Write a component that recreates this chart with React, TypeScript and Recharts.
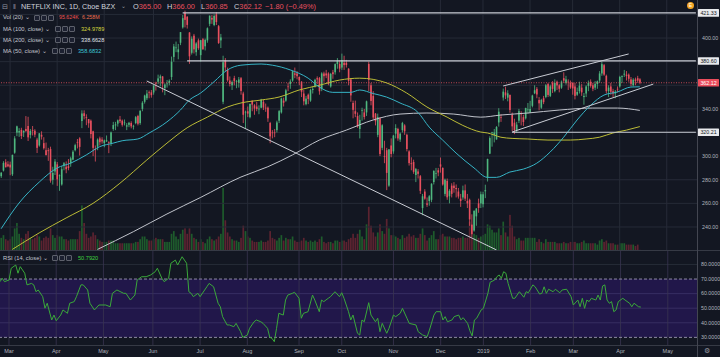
import React from "react";
import { ComposedChart, Bar, Line, XAxis, YAxis, ReferenceLine, ReferenceArea } from "recharts";

// ---------- categories / ticks ----------
const SLOTS = 311; // trading-day slots shown (286 bars + future space)
const monthTickIdx = [4, 25, 46, 68, 89, 110, 133, 152, 175, 196, 215, 236, 255, 276, 297];
const monthTickLabels = ["Mar", "Apr", "May", "Jun", "Jul", "Aug", "Sep", "Oct", "Nov", "Dec", "2019", "Feb", "Mar", "Apr", "May"];
const priceGridTicks = [240, 260, 280, 300, 320, 340, 360, 380, 400, 420];
const priceLabelTicks = [240, 260, 280, 300, 340, 400];
const rsiTicks = [80, 70, 60, 50, 40, 30];

// ---------- daily OHLC (Feb 23 2018 .. Apr 12 2019) ----------
const opens = [
  283.0, 287.8, 294.8, 293.1,
  292.8, 284.6, 302.9, 319.9, 320.0, 322.2, 320.0, 323.0, 325.5, 318.0, 322.0, 321.5, 314.0, 309.0, 318.0, 311.0, 305.0, 305.0, 306.0, 280.0, 287.0,
  293.0, 283.0, 276.0, 292.0, 291.0, 291.5, 294.0, 297.0, 305.0, 312.0, 315.0, 329.7, 336.3, 332.9, 331.4, 330.0, 321.0, 306.0, 308.0, 315.0, 314.0,
  311.0, 312.5, 312.0, 311.0, 323.0, 326.0, 327.5, 331.0, 330.0, 328.0, 325.0, 326.5, 328.0, 325.0, 328.0, 334.0, 328.0, 340.0, 346.0, 349.0, 354.0, 354.0,
  353.9, 362.0, 363.0, 366.0, 367.5, 357.5, 361.0, 362.0, 367.0, 384.0, 392.0, 388.0, 396.0, 409.0, 421.4, 418.0, 404.7, 387.5, 402.0, 388.0, 398.0,
  385.5, 399.0, 393.0, 398.0, 412.0, 417.0, 411.0, 420.0, 410.0, 398.0, 346.0, 381.0, 373.0, 364.0, 360.0, 366.0, 363.0, 362.0, 366.0, 353.0, 337.0,
  338.0, 333.0, 347.0, 343.0, 342.0, 340.0, 341.0, 346.0, 341.0, 341.0, 328.0, 320.0, 320.0, 322.0, 330.0, 337.0, 347.0, 347.0, 359.0, 361.0, 364.0, 370.0, 370.0,
  367.0, 363.0, 353.0, 344.0, 352.0, 347.0, 356.0, 359.0, 366.0, 366.0, 357.0, 370.0, 370.0, 370.0, 359.0, 371.0, 371.0, 378.0, 378.0,
  375.0, 379.0, 379.0, 374.0, 365.0, 345.0, 338.0, 334.0, 323.0, 339.0, 337.0, 337.0, 378.0, 360.0, 351.0, 336.0, 318.0, 332.0, 307.0, 300.0, 305.0, 275.0, 309.0,
  304.0, 319.0, 323.0, 314.0, 322.0, 326.0, 318.0, 304.0, 294.0, 295.0, 284.0, 287.0, 283.0, 256.0, 270.0, 260.0, 262.0, 263.0, 278.0, 285.0, 288.0,
  293.0, 290.0, 268.0, 279.0, 266.0, 275.0, 275.0, 273.0, 270.0, 264.0, 265.0, 271.0, 262.0, 263.0, 242.0, 237.0, 249.0, 260.0, 260.0,
  259.3, 270.2, 281.9, 302.1, 320.0, 317.7, 314.1, 328.5, 333.0, 349.6, 354.0, 349.5, 351.9, 334.9, 328.3, 322.1, 330.0, 336.0, 333.0, 332.0, 339.0,
  337.2, 342.6, 353.2, 357.0, 347.5, 341.0, 349.0, 350.0, 361.0, 351.0, 362.0, 355.0, 363.0, 360.0, 358.0, 366.0, 362.0, 363.0, 362.0,
  362.0, 359.0, 352.0, 355.0, 358.0, 350.0, 353.0, 359.5, 363.0, 360.0, 358.0, 361.0, 364.0, 370.0, 377.0, 368.0, 355.0, 359.0, 355.0, 353.0, 357.0,
  359.0, 367.0, 369.0, 369.0, 369.0, 365.0, 360.0, 365.0, 366.0, 365.0,
];
const highs = [
  286.5, 295.7, 297.4, 295.7,
  295.3, 301.2, 316.9, 325.8, 323.7, 324.0, 321.8, 333.9, 333.3, 323.0, 325.5, 322.8, 315.5, 319.5, 321.0, 316.0, 311.5, 307.0, 308.0, 291.0, 297.5,
  295.0, 284.5, 291.5, 295.0, 295.5, 297.5, 299.5, 305.0, 310.5, 314.5, 316.0, 338.8, 338.8, 335.4, 331.4, 331.0, 321.5, 309.0, 315.0, 316.5, 316.0,
  314.0, 317.5, 312.5, 320.8, 329.0, 329.0, 331.0, 334.0, 331.0, 331.0, 328.0, 329.0, 329.5, 326.5, 334.0, 335.0, 338.8, 346.5, 352.0, 356.0, 355.5, 356.0,
  360.0, 363.0, 369.0, 369.0, 367.8, 361.6, 364.5, 365.0, 384.3, 395.0, 397.0, 395.0, 405.0, 419.5, 423.2, 418.5, 405.0, 401.4, 403.5, 396.5, 399.5,
  398.4, 400.0, 399.5, 409.0, 419.0, 419.5, 420.0, 422.0, 411.0, 403.5, 385.0, 383.0, 375.0, 367.5, 364.0, 368.0, 364.5, 367.0, 367.0, 354.5, 338.5,
  342.0, 344.5, 347.0, 344.0, 346.0, 343.0, 348.5, 347.5, 344.5, 342.0, 329.0, 322.0, 323.0, 330.0, 339.0, 349.5, 349.5, 357.0, 362.0, 365.0, 372.0, 375.0, 372.0,
  367.5, 363.5, 356.0, 351.0, 353.0, 357.0, 359.0, 365.5, 367.5, 367.0, 371.0, 371.5, 373.0, 371.0, 370.5, 373.0, 378.5, 383.0, 381.0,
  386.8, 385.0, 381.5, 374.5, 366.0, 347.0, 347.0, 337.0, 335.0, 341.0, 340.0, 347.0, 380.0, 362.0, 355.0, 336.5, 336.0, 333.0, 327.0, 313.0, 307.0, 306.0, 315.0,
  318.0, 327.0, 324.0, 320.0, 329.0, 327.0, 319.0, 305.0, 299.0, 297.0, 290.0, 289.0, 284.0, 268.0, 272.0, 265.0, 267.0, 277.0, 288.0, 290.0, 290.0,
  298.8, 290.5, 281.0, 281.0, 272.0, 277.0, 278.0, 276.0, 273.0, 268.0, 275.0, 276.0, 268.0, 264.0, 250.7, 254.0, 256.0, 264.0, 270.0,
  269.8, 275.8, 297.8, 316.8, 320.6, 323.0, 325.4, 340.6, 335.5, 357.2, 358.8, 355.8, 352.0, 336.9, 331.7, 329.0, 340.0, 338.0, 335.0, 341.0, 345.0,
  346.8, 352.0, 360.0, 358.5, 350.0, 348.5, 351.0, 361.0, 362.0, 360.5, 363.5, 365.0, 364.0, 361.0, 364.0, 371.0, 368.0, 365.0, 364.0,
  362.5, 362.0, 358.0, 363.0, 361.0, 353.5, 360.0, 364.0, 365.0, 362.0, 363.5, 364.0, 372.0, 379.8, 378.0, 369.0, 360.0, 362.0, 357.0, 356.0, 359.0,
  368.0, 368.4, 373.0, 372.0, 370.0, 367.0, 366.0, 366.5, 368.0, 366.0,
];
const lows = [
  281.5, 287.0, 290.4, 290.6,
  283.8, 283.2, 302.0, 316.9, 316.3, 314.5, 316.2, 320.5, 312.8, 315.0, 317.5, 316.0, 302.6, 308.0, 314.0, 305.5, 300.5, 296.0, 277.5, 275.9, 284.0,
  274.8, 270.6, 275.0, 288.0, 285.5, 288.0, 291.0, 296.5, 304.0, 306.5, 300.5, 323.7, 331.1, 326.2, 324.0, 315.0, 300.0, 295.4, 305.0, 309.0, 310.5,
  307.5, 312.0, 302.5, 308.5, 321.5, 322.0, 325.0, 328.0, 325.0, 326.0, 322.0, 324.5, 323.5, 322.5, 327.0, 326.0, 326.5, 338.0, 344.5, 347.5, 349.0, 349.5,
  352.0, 355.5, 361.0, 359.0, 354.0, 351.6, 358.0, 360.0, 364.5, 380.0, 388.0, 382.0, 394.0, 408.0, 409.0, 408.0, 378.1, 386.0, 386.9, 385.0, 390.0,
  380.0, 390.0, 389.5, 396.0, 410.0, 412.0, 410.0, 411.0, 395.0, 391.5, 344.0, 372.0, 363.0, 359.0, 356.0, 360.0, 357.5, 358.0, 352.0, 328.0, 323.0,
  333.0, 332.0, 338.0, 335.0, 338.0, 335.5, 340.5, 339.0, 337.5, 329.0, 310.9, 315.0, 316.0, 320.0, 328.0, 336.0, 342.0, 346.0, 355.0, 357.0, 363.0, 366.0, 365.0,
  360.0, 350.0, 343.0, 343.0, 344.0, 346.0, 353.0, 358.0, 361.0, 352.0, 355.0, 363.0, 366.0, 360.0, 358.0, 365.5, 369.0, 374.0, 371.0,
  373.0, 373.0, 375.0, 360.0, 346.0, 332.0, 333.0, 324.0, 315.0, 330.0, 331.0, 334.0, 355.0, 343.0, 331.0, 326.0, 316.0, 300.0, 305.0, 294.0, 271.2, 274.0, 299.0,
  302.0, 315.0, 313.0, 312.0, 320.0, 318.0, 304.0, 292.0, 288.0, 285.0, 278.0, 281.0, 268.0, 250.0, 263.0, 257.0, 258.0, 261.0, 276.0, 281.0, 283.0,
  286.0, 275.0, 266.0, 263.0, 260.0, 265.0, 269.0, 265.0, 264.0, 257.0, 263.0, 262.0, 256.0, 241.0, 231.2, 236.0, 241.0, 252.0, 256.0,
  256.6, 264.4, 278.5, 301.7, 308.0, 311.6, 314.0, 325.0, 329.0, 347.0, 348.3, 346.4, 336.7, 321.0, 318.6, 320.0, 328.0, 326.0, 325.5, 331.0, 336.0,
  336.5, 341.3, 352.5, 349.0, 338.8, 340.0, 344.0, 349.0, 350.0, 350.0, 353.5, 354.0, 356.0, 354.0, 357.0, 362.0, 360.5, 356.0, 357.0,
  352.0, 348.0, 351.0, 353.0, 351.0, 343.5, 350.0, 355.0, 358.0, 355.0, 356.0, 357.0, 362.0, 368.0, 368.0, 353.0, 350.0, 352.0, 350.0, 349.0, 354.0,
  358.0, 362.0, 367.0, 364.0, 363.0, 359.0, 359.0, 360.0, 362.0, 360.85,
];
const closes = [
  285.9, 294.2, 290.6, 291.4,
  290.4, 301.1, 315.0, 325.2, 321.2, 317.0, 321.4, 321.3, 315.9, 321.3, 321.5, 318.2, 307.0, 319.3, 316.5, 306.7, 300.9, 304.2, 279.2, 285.8, 295.4,
  280.3, 283.7, 288.9, 294.0, 288.9, 289.9, 298.1, 303.7, 309.3, 311.7, 307.8, 336.1, 333.9, 332.2, 327.8, 318.7, 307.0, 305.8, 314.0, 311.8, 312.5,
  313.3, 313.4, 311.7, 320.1, 326.3, 326.9, 330.3, 329.6, 326.5, 328.5, 326.1, 328.2, 325.2, 325.6, 333.0, 327.4, 338.4, 345.2, 351.3, 353.0, 353.5, 351.6,
  359.9, 361.8, 365.8, 367.5, 361.4, 360.6, 361.5, 363.8, 379.9, 392.9, 392.0, 390.4, 405.0, 416.8, 415.4, 411.1, 384.5, 399.4, 390.4, 395.4, 391.4,
  398.2, 390.5, 398.4, 408.3, 419.0, 415.6, 418.7, 413.5, 395.8, 400.5, 379.5, 375.1, 364.2, 361.1, 362.7, 363.4, 363.4, 364.9, 355.2, 335.0, 337.5,
  336.0, 344.2, 343.6, 340.3, 339.9, 340.2, 347.8, 341.1, 340.5, 332.0, 316.7, 319.6, 319.7, 328.5, 338.1, 348.8, 345.2, 355.7, 358.4, 363.2, 371.9, 368.9, 367.7,
  364.1, 354.5, 346.4, 348.7, 348.4, 355.9, 356.9, 364.6, 364.9, 354.9, 370.0, 367.7, 368.3, 361.2, 369.6, 369.4, 377.9, 380.7, 374.1,
  381.4, 377.1, 377.1, 363.7, 351.4, 339.2, 335.8, 325.2, 330.7, 339.0, 333.1, 346.4, 364.7, 346.7, 332.7, 329.5, 333.1, 301.8, 326.1, 299.8, 285.8, 305.7, 301.8,
  317.4, 323.8, 315.0, 319.0, 328.0, 321.0, 306.0, 294.1, 293.2, 286.7, 289.0, 285.0, 270.6, 266.0, 264.0, 258.8, 266.0, 276.6, 287.5, 285.5, 286.1,
  291.1, 276.0, 280.0, 265.1, 270.6, 268.0, 273.0, 272.0, 265.8, 262.0, 271.0, 264.0, 260.0, 246.4, 233.9, 253.7, 255.6, 256.1, 267.7,
  267.7, 271.2, 297.6, 315.3, 320.3, 320.0, 324.7, 337.6, 332.9, 354.6, 351.4, 353.2, 339.1, 325.2, 322.0, 326.7, 338.1, 335.7, 328.9, 340.7, 339.5,
  339.9, 351.3, 355.8, 352.2, 344.7, 347.6, 345.7, 360.0, 351.8, 359.1, 356.9, 361.9, 359.9, 357.0, 363.0, 363.9, 365.0, 362.9, 358.1,
  357.3, 351.0, 354.3, 359.6, 354.0, 351.0, 359.0, 362.0, 359.5, 357.0, 361.2, 363.4, 370.0, 377.9, 369.0, 355.0, 358.0, 354.5, 353.0, 354.6, 356.6,
  367.0, 367.7, 369.8, 367.9, 365.5, 361.2, 364.7, 363.5, 363.9, 362.12,
];
// volume, millions
const volumes = [
  9, 11, 8, 7,
  8, 10, 16, 20, 12, 9, 8, 12, 14, 9, 8, 9, 11, 10, 7, 9, 10, 9, 16, 11, 9,
  11, 10, 10, 8, 8, 7, 8, 8, 8, 8, 14, 33, 20, 12, 9, 10, 13, 11, 8, 7, 6,
  6, 6, 7, 7, 7, 5, 5, 5, 5, 5, 5, 5, 5, 5, 6, 6, 8, 10, 10, 8, 7, 7,
  8, 9, 8, 8, 8, 6, 6, 6, 12, 14, 10, 8, 12, 15, 16, 12, 16, 12, 9, 8, 6,
  8, 6, 5, 8, 10, 8, 7, 8, 10, 12, 46, 22, 13, 10, 8, 7, 7, 6, 9, 18, 14,
  10, 9, 7, 6, 6, 6, 7, 6, 6, 7, 14, 9, 8, 7, 9, 11, 7, 9, 8, 8, 10, 7, 6,
  6, 7, 9, 7, 6, 7, 6, 7, 6, 8, 10, 6, 5, 6, 6, 5, 7, 7, 6,
  7, 7, 6, 8, 9, 12, 9, 12, 15, 10, 8, 19, 32, 18, 13, 10, 13, 19, 14, 12, 23, 16, 11,
  11, 10, 9, 8, 11, 9, 10, 12, 10, 11, 9, 9, 12, 16, 11, 7, 9, 11, 14, 8, 8,
  11, 12, 10, 10, 10, 9, 9, 8, 9, 9, 10, 9, 9, 21, 9, 12, 11, 9, 10,
  11, 12, 19, 18, 15, 13, 13, 16, 11, 21, 13, 10, 26, 18, 10, 8, 9, 7, 7, 9, 9,
  9, 9, 9, 6, 8, 6, 5, 8, 6, 6, 6, 6, 5, 5, 5, 6, 5, 5, 6,
  6, 6, 5, 5, 6, 7, 5, 5, 5, 5, 5, 4, 7, 8, 6, 7, 5, 5, 5, 4, 4,
  5, 5, 5, 4, 4, 4, 4, 3, 4, 0.1,
];

// ---------- indicator readings [bar index, value] ----------
const ma50Points: [number, number][] = [
  [0, 238.5], [8, 260.3], [17, 278], [25, 290], [31, 294], [38, 301], [44, 308], [50, 311], [54, 313], [61, 314.5],
  [66, 319.5], [74, 329], [80, 339], [84, 347.5], [89, 353.4], [95, 363], [101, 373], [107, 377], [116, 378], [121, 377],
  [129, 373], [137, 366], [142, 358.5], [148, 354], [156, 354], [160, 356], [166, 353], [172, 350], [178, 345], [186, 337],
  [191, 324.6], [197, 313.6], [203, 302.6], [211, 290], [217, 282], [221, 282], [227, 286.5], [233, 289], [239, 294], [245, 303.5],
  [251, 316], [257, 330.6], [263, 343], [269, 351.7], [275, 354.3], [281, 358.5], [285, 358.7],
];
const ma100Points: [number, number][] = [
  [5, 221], [17, 235], [29, 247.6], [41, 260], [53, 277], [65, 296.7], [74, 311], [83, 324], [92, 333], [101, 341.6],
  [107, 345], [116, 347.5], [124, 350], [133, 356], [142, 360], [151, 364.4], [160, 366], [166, 365], [172, 362], [181, 353.4],
  [190, 341.6], [199, 333], [206, 326], [214, 320.4], [217, 319.6], [223, 316], [228, 315], [235, 314.5], [244, 313.6], [254, 313.6],
  [261, 314.5], [267, 316], [273, 319.6], [279, 322], [285, 325],
];
const ma200Points: [number, number][] = [
  [43, 221], [59, 236], [74, 251], [89, 265], [107, 282.3], [119, 291], [130, 301], [142, 313.6], [154, 322], [166, 330.6],
  [178, 335.6], [190, 336.5], [202, 335.6], [214, 333], [223, 334.8], [235, 336.5], [249, 339], [264, 340.7], [275, 340.7], [285, 338.7],
];
const rsiPoints: [number, number][] = [
  [0, 68.2], [1, 70.5], [2, 68.2], [4, 69.3], [5, 77.4], [7, 79.6], [8, 74], [9, 78.5], [11, 74], [12, 66], [14, 67], [15, 66],
  [16, 61.3], [17, 62.5], [19, 57.9], [20, 50], [21, 53.4], [23, 41.9], [24, 45.3], [25, 41.4], [27, 45.3], [28, 48.8], [30, 46.5],
  [31, 53.4], [33, 54.5], [34, 57.9], [36, 66], [37, 66], [39, 62.5], [40, 53.4], [42, 48.8], [44, 52.2], [47, 52.2], [49, 51],
  [50, 60.2], [52, 62.5], [55, 60.2], [56, 60.2], [58, 55.6], [60, 59], [61, 69.3], [63, 71.6], [65, 71.6], [67, 72.8], [69, 75],
  [70, 77.4], [72, 70.5], [73, 68.2], [75, 70.5], [76, 80.8], [78, 83], [79, 79.6], [81, 85.3], [83, 80.8], [84, 61.3], [85, 60.2],
  [86, 57.9], [88, 60.2], [89, 57.9], [92, 64.7], [93, 67], [95, 64.7], [97, 53.4], [98, 51], [99, 44.2], [101, 38.5], [102, 38.5],
  [104, 37.3], [105, 39.6], [107, 33.9], [108, 30], [110, 31.6], [111, 36.2], [113, 40.7], [114, 41.9], [116, 40.7], [117, 39.6],
  [119, 36.2], [120, 30], [121, 29.3], [122, 27], [123, 36.2], [124, 46.5], [126, 45.3], [127, 55.6], [128, 59], [130, 60.2],
  [131, 60.9], [133, 56.8], [134, 43.1], [135, 46.5], [137, 47.6], [139, 59], [140, 55.6], [142, 47.6], [143, 55.6], [144, 54.5],
  [146, 56.8], [147, 57.9], [149, 61.3], [151, 57.9], [152, 60.6], [153, 56.8], [155, 47.6], [156, 41.9], [157, 45.3], [159, 32.8],
  [160, 31.6], [161, 41.9], [162, 40.7], [164, 53.8], [165, 45.3], [167, 40.7], [168, 43.1], [169, 33.9], [170, 39.6], [172, 32.8],
  [173, 36.2], [175, 45.3], [176, 44.2], [178, 46.5], [179, 49.9], [181, 43.1], [182, 39.6], [185, 38.5], [186, 33.9], [188, 31.6],
  [190, 30.5], [191, 35], [193, 45.3], [194, 47.6], [196, 47.6], [197, 41.9], [198, 44.2], [199, 40.7], [201, 41.9], [202, 44.2],
  [204, 45.3], [205, 42], [206, 43.5], [208, 39.5], [209, 34.5], [210, 31], [211, 41.9], [212, 43.1], [214, 48.8], [215, 49.9],
  [217, 60.2], [218, 67.8], [220, 69.3], [221, 71.6], [222, 72.8], [223, 70.5], [224, 75], [225, 74], [226, 67], [228, 56.8],
  [229, 56.8], [231, 61.3], [233, 57.5], [234, 61.3], [235, 60.6], [237, 66], [238, 64.7], [240, 59.7], [241, 60.2], [242, 64.7],
  [243, 60.2], [244, 63], [246, 61.3], [247, 63], [249, 60.6], [250, 62.5], [252, 63], [254, 57.9], [255, 52.2], [257, 55.6],
  [258, 51], [259, 56.8], [260, 49.9], [261, 55.6], [262, 54.5], [263, 56.8], [265, 55.6], [266, 59], [267, 55.6], [268, 65.2],
  [269, 66], [270, 55.6], [271, 53.4], [272, 54.5], [273, 47.6], [274, 48.8], [275, 54.5], [277, 56.8], [278, 55.6], [280, 53.4],
  [281, 51], [282, 53.4], [284, 51], [285, 50.79],
];

// ---------- drawings (data space) ----------
const hRays = [
  { price: 421.33, from: 81 },
  { price: 380.6, from: 83 },
  { price: 320.21, from: 228 },
];
const trendLines: [number, number, number, number][] = [
  [65, 363.6, 221, 220.6],
  [224, 359.4, 280, 386.5],
  [228, 320.4, 291, 361.0],
];
const lastPrice = 362.12;
const axisBadges = [
  { value: 421.33, bg: "#e8e9ec", fg: "#131722" },
  { value: 380.6, bg: "#e8e9ec", fg: "#131722" },
  { value: 320.21, bg: "#e8e9ec", fg: "#131722" },
  { value: 362.12, bg: "#eb4d5c", fg: "#ffffff" },
];

// ---------- styling ----------
const P_MIN = 220.5, P_MAX = 432.2;
const R_MIN = 24.76, R_MAX = 89.23;
const BG = "#131722";
const GRID = "#262b37";
const AXT = "#b2b5be";
const UP = "#4fb77f";
const DOWN = "#e8505f";
const VOL_UP = "#1e5b2c";
const VOL_DOWN = "#5c2330";
const C50 = "#36b4c6";
const C100 = "#bcbc36";
const C200 = "#c0c3cb";
const DRAW = "#c9ccd4";
const RSI_C = "#3aa83a";
const FONT = "'Liberation Sans', Arial, sans-serif";

const toMap = (pts: [number, number][]) => new Map(pts.map(([i, v]) => [i, v]));
const m50 = toMap(ma50Points), m100 = toMap(ma100Points), m200 = toMap(ma200Points), mr = toMap(rsiPoints);

const rows = Array.from({ length: SLOTS }, (_, i) => {
  const has = i < closes.length;
  return {
    i,
    o: has ? opens[i] : undefined,
    h: has ? highs[i] : undefined,
    l: has ? lows[i] : undefined,
    c: has ? closes[i] : undefined,
    range: has ? [lows[i], highs[i]] : undefined,
    vol: has ? volumes[i] : undefined,
    ma50: m50.get(i),
    ma100: m100.get(i),
    ma200: m200.get(i),
    rsi: mr.get(i),
  };
});

const CandleShape = (props: any) => {
  const { x, y, width, height, payload } = props;
  if (!payload || payload.h == null || !isFinite(y) || !isFinite(height)) return <g />;
  const { o, h, l, c } = payload;
  const top = Math.min(y, y + height);
  const bot = Math.max(y, y + height);
  const span = h - l || 1;
  const yOf = (v: number) => top + ((h - v) / span) * (bot - top);
  const cx = x + width / 2;
  const col = c >= o ? UP : DOWN;
  const bt = yOf(Math.max(o, c));
  const bb = yOf(Math.min(o, c));
  return (
    <g>
      <line x1={cx} x2={cx} y1={top} y2={bot} stroke={col} strokeWidth={0.8} />
      <rect x={cx - 0.8} y={bt} width={1.6} height={Math.max(0.7, bb - bt)} fill={col} />
    </g>
  );
};

const VolShape = (props: any) => {
  const { x, y, width, height, payload } = props;
  if (!payload || payload.vol == null || !(height > 0)) return <g />;
  const cx = x + width / 2;
  return <rect x={cx - 0.85} y={y} width={1.7} height={height} fill={payload.c >= payload.o ? VOL_UP : VOL_DOWN} />;
};

const PriceTick = (p: any) => {
  const v = p.payload?.value;
  const badge = axisBadges.find((b) => b.value === v);
  if (badge) {
    return (
      <g>
        <rect x={p.x + 1} y={p.y - 3.8} width={21} height={7.6} fill={badge.bg} rx={0.5} />
        <text x={p.x + 11.5} y={p.y} dy="0.35em" textAnchor="middle" fontSize={5.3} fill={badge.fg} fontFamily={FONT}>
          {v.toFixed(2)}
        </text>
      </g>
    );
  }
  return (
    <text x={p.x + 5} y={p.y} dy="0.35em" fontSize={5.3} fill={AXT} fontFamily={FONT}>
      {v.toFixed(2)}
    </text>
  );
};

const RsiTick = (p: any) => (
  <text x={p.x + 4} y={p.y} dy="0.35em" fontSize={5.3} fill={AXT} fontFamily={FONT}>
    {p.payload.value.toFixed(4)}
  </text>
);

const T = ({ x, y, size = 6, color = "#c3c6ce", children }: any) => (
  <div style={{ position: "absolute", left: x, top: y - size * 0.6, fontSize: size, lineHeight: 1.2 + "", color, whiteSpace: "nowrap", fontFamily: FONT }}>
    {children}
  </div>
);

const Icons = ({ x, y }: any) => (
  <>
    {[0, 7, 14].map((d) => (
      <div key={d} style={{ position: "absolute", left: x + d, top: y - 3, width: 4, height: 4, border: "1px solid #5d606b", borderRadius: 1, background: "#1c2030" }} />
    ))}
  </>
);

export default function App() {
  const xLabel = (v: any) => monthTickLabels[monthTickIdx.indexOf(Number(v))] ?? "";
  return (
    <div style={{ position: "fixed", left: 0, top: 0, width: 720, height: 357, background: BG, overflow: "hidden" }}>
      {/* layer A: grid + volume */}
      <div style={{ position: "absolute", left: 0, top: 0 }}>
        <ComposedChart width={720} height={250} data={rows} margin={{ top: 0, right: 23, left: 0, bottom: 0 }}>
          <XAxis dataKey="i" hide />
          <YAxis yAxisId="p" hide type="number" domain={[P_MIN, P_MAX]} allowDataOverflow />
          <YAxis yAxisId="v" hide type="number" domain={[0, 185]} allowDataOverflow />
          {priceGridTicks.map((p) => (
            <ReferenceLine key={"h" + p} yAxisId="p" y={p} stroke={GRID} strokeWidth={1} />
          ))}
          {monthTickIdx.map((m) => (
            <ReferenceLine key={"v" + m} yAxisId="p" x={m} stroke={GRID} strokeWidth={1} />
          ))}
          <Bar yAxisId="v" dataKey="vol" shape={VolShape} isAnimationActive={false} />
        </ComposedChart>
      </div>
      {/* layer B: price */}
      <div style={{ position: "absolute", left: 0, top: 0 }}>
        <ComposedChart width={720} height={250} data={rows} margin={{ top: 0, right: 0, left: 0, bottom: 0 }}>
          <XAxis dataKey="i" hide />
          <YAxis
            orientation="right"
            width={23}
            type="number"
            domain={[P_MIN, P_MAX]}
            allowDataOverflow
            ticks={[...priceLabelTicks, ...axisBadges.map((b) => b.value)]}
            interval={0}
            tickSize={0}
            tickMargin={0}
            axisLine={false}
            tickLine={false}
            tick={(p: any) => <PriceTick {...p} />}
          />
          <ReferenceLine y={lastPrice} stroke={DOWN} strokeDasharray="1 1.5" strokeWidth={0.8} />
          <Bar dataKey="range" shape={CandleShape} isAnimationActive={false} />
          <Line dataKey="ma200" type="monotone" stroke={C200} strokeWidth={1} dot={false} activeDot={false} connectNulls isAnimationActive={false} />
          <Line dataKey="ma100" type="monotone" stroke={C100} strokeWidth={1} dot={false} activeDot={false} connectNulls isAnimationActive={false} />
          <Line dataKey="ma50" type="monotone" stroke={C50} strokeWidth={1} dot={false} activeDot={false} connectNulls isAnimationActive={false} />
          {hRays.map((r) => (
            <ReferenceLine key={"r" + r.price} segment={[{ x: r.from, y: r.price }, { x: SLOTS - 1, y: r.price }]} stroke={DRAW} strokeWidth={1.2} ifOverflow="hidden" />
          ))}
          {trendLines.map((t, k) => (
            <ReferenceLine key={"t" + k} segment={[{ x: t[0], y: t[1] }, { x: t[2], y: t[3] }]} stroke={DRAW} strokeWidth={1} ifOverflow="hidden" />
          ))}
        </ComposedChart>
      </div>
      {/* layer C: RSI + time axis */}
      <div style={{ position: "absolute", left: 0, top: 251 }}>
        <ComposedChart width={720} height={106} data={rows} margin={{ top: 0, right: 0, left: 0, bottom: 0 }}>
          <XAxis
            dataKey="i"
            ticks={monthTickIdx}
            interval={0}
            height={12}
            axisLine={false}
            tickLine={false}
            tickSize={0}
            tickMargin={4}
            tickFormatter={xLabel}
            tick={{ fontSize: 5.5, fill: AXT, fontFamily: FONT }}
          />
          <YAxis
            orientation="right"
            width={23}
            type="number"
            domain={[R_MIN, R_MAX]}
            allowDataOverflow
            ticks={rsiTicks}
            interval={0}
            tickSize={0}
            tickMargin={0}
            axisLine={false}
            tickLine={false}
            tick={(p: any) => <RsiTick {...p} />}
          />
          <ReferenceArea y1={30} y2={70} fill="#21174a" fillOpacity={1} stroke="none" />
          <ReferenceLine y={80} stroke={GRID} />
          {[40, 50, 60].map((v) => (
            <ReferenceLine key={"rg" + v} y={v} stroke="#372d62" />
          ))}
          {monthTickIdx.map((m) => (
            <ReferenceLine key={"rv" + m} x={m} stroke="#3a3550" strokeOpacity={0.8} />
          ))}
          <ReferenceLine y={70} stroke="#8d8aa3" strokeDasharray="3 2" />
          <ReferenceLine y={30} stroke="#8d8aa3" strokeDasharray="3 2" />
          <Line dataKey="rsi" type="linear" stroke={RSI_C} strokeWidth={1} dot={false} activeDot={false} connectNulls isAnimationActive={false} />
        </ComposedChart>
      </div>

      {/* frame lines */}
      <div style={{ position: "absolute", left: 0, top: 250, width: 720, height: 1, background: "#363a45" }} />
      <div style={{ position: "absolute", left: 0, top: 345, width: 720, height: 1, background: "#363a45" }} />
      <div style={{ position: "absolute", left: 697, top: 0, width: 1, height: 357, background: "#434651" }} />

      {/* header */}
      <T x={2} y={7} size={7} color="#9598a1">⊟</T>
      <T x={13} y={7} size={7} color="#9598a1">‖</T>
      <T x={21} y={7} size={7.2} color="#d1d4dc">NETFLIX INC, 1D, Cboe BZX</T>
      <T x={121} y={7} size={6} color="#9598a1">⌄</T>
      <T x={133} y={7} size={7.4} color="#d1d4dc">O<span style={{ color: DOWN }}>365.00</span></T>
      <T x={167} y={7} size={7.4} color="#d1d4dc">H<span style={{ color: DOWN }}>366.00</span></T>
      <T x={201} y={7} size={7.4} color="#d1d4dc">L<span style={{ color: DOWN }}>360.85</span></T>
      <T x={234} y={7} size={7.4} color="#d1d4dc">C<span style={{ color: DOWN }}>362.12</span></T>
      <T x={265} y={7} size={7.4} color={DOWN}>−1.80 (−0.49%)</T>

      {/* legends */}
      <T x={3} y={17.5} size={5.8}>Vol (20) ⌄</T>
      <Icons x={34} y={17.5} />
      <T x={59} y={17.5} size={5.3} color="#ef5350">95.624K</T>
      <T x={82} y={17.5} size={5.3} color="#ef6f50">6.258M</T>

      <T x={3} y={29} size={5.8}>MA (100, close) ⌄</T>
      <Icons x={55} y={29} />
      <T x={81} y={29} size={5.6} color="#d6d63c">324.9789</T>

      <T x={3} y={40} size={5.8}>MA (200, close) ⌄</T>
      <Icons x={55} y={40} />
      <T x={81} y={40} size={5.6} color="#e0e3eb">338.6628</T>

      <T x={3} y={51} size={5.8}>MA (50, close) ⌄</T>
      <Icons x={52} y={51} />
      <T x={78} y={51} size={5.6} color="#3ec6d8">358.6832</T>

      <T x={3} y={258} size={5.8}>RSI (14, close) ⌄</T>
      <Icons x={52} y={258} />
      <T x={78} y={258} size={5.6} color="#3fd13f">50.7920</T>

      {/* earnings marker + gear */}
      <div style={{ position: "absolute", left: 687, top: 1.5, width: 7, height: 7, borderRadius: 4, background: "#f5a623", color: "#fff", fontSize: 5, lineHeight: "7px", textAlign: "center", fontFamily: FONT }}>E</div>
      <T x={704} y={351} size={7} color="#9598a1">⚙</T>
    </div>
  );
}
